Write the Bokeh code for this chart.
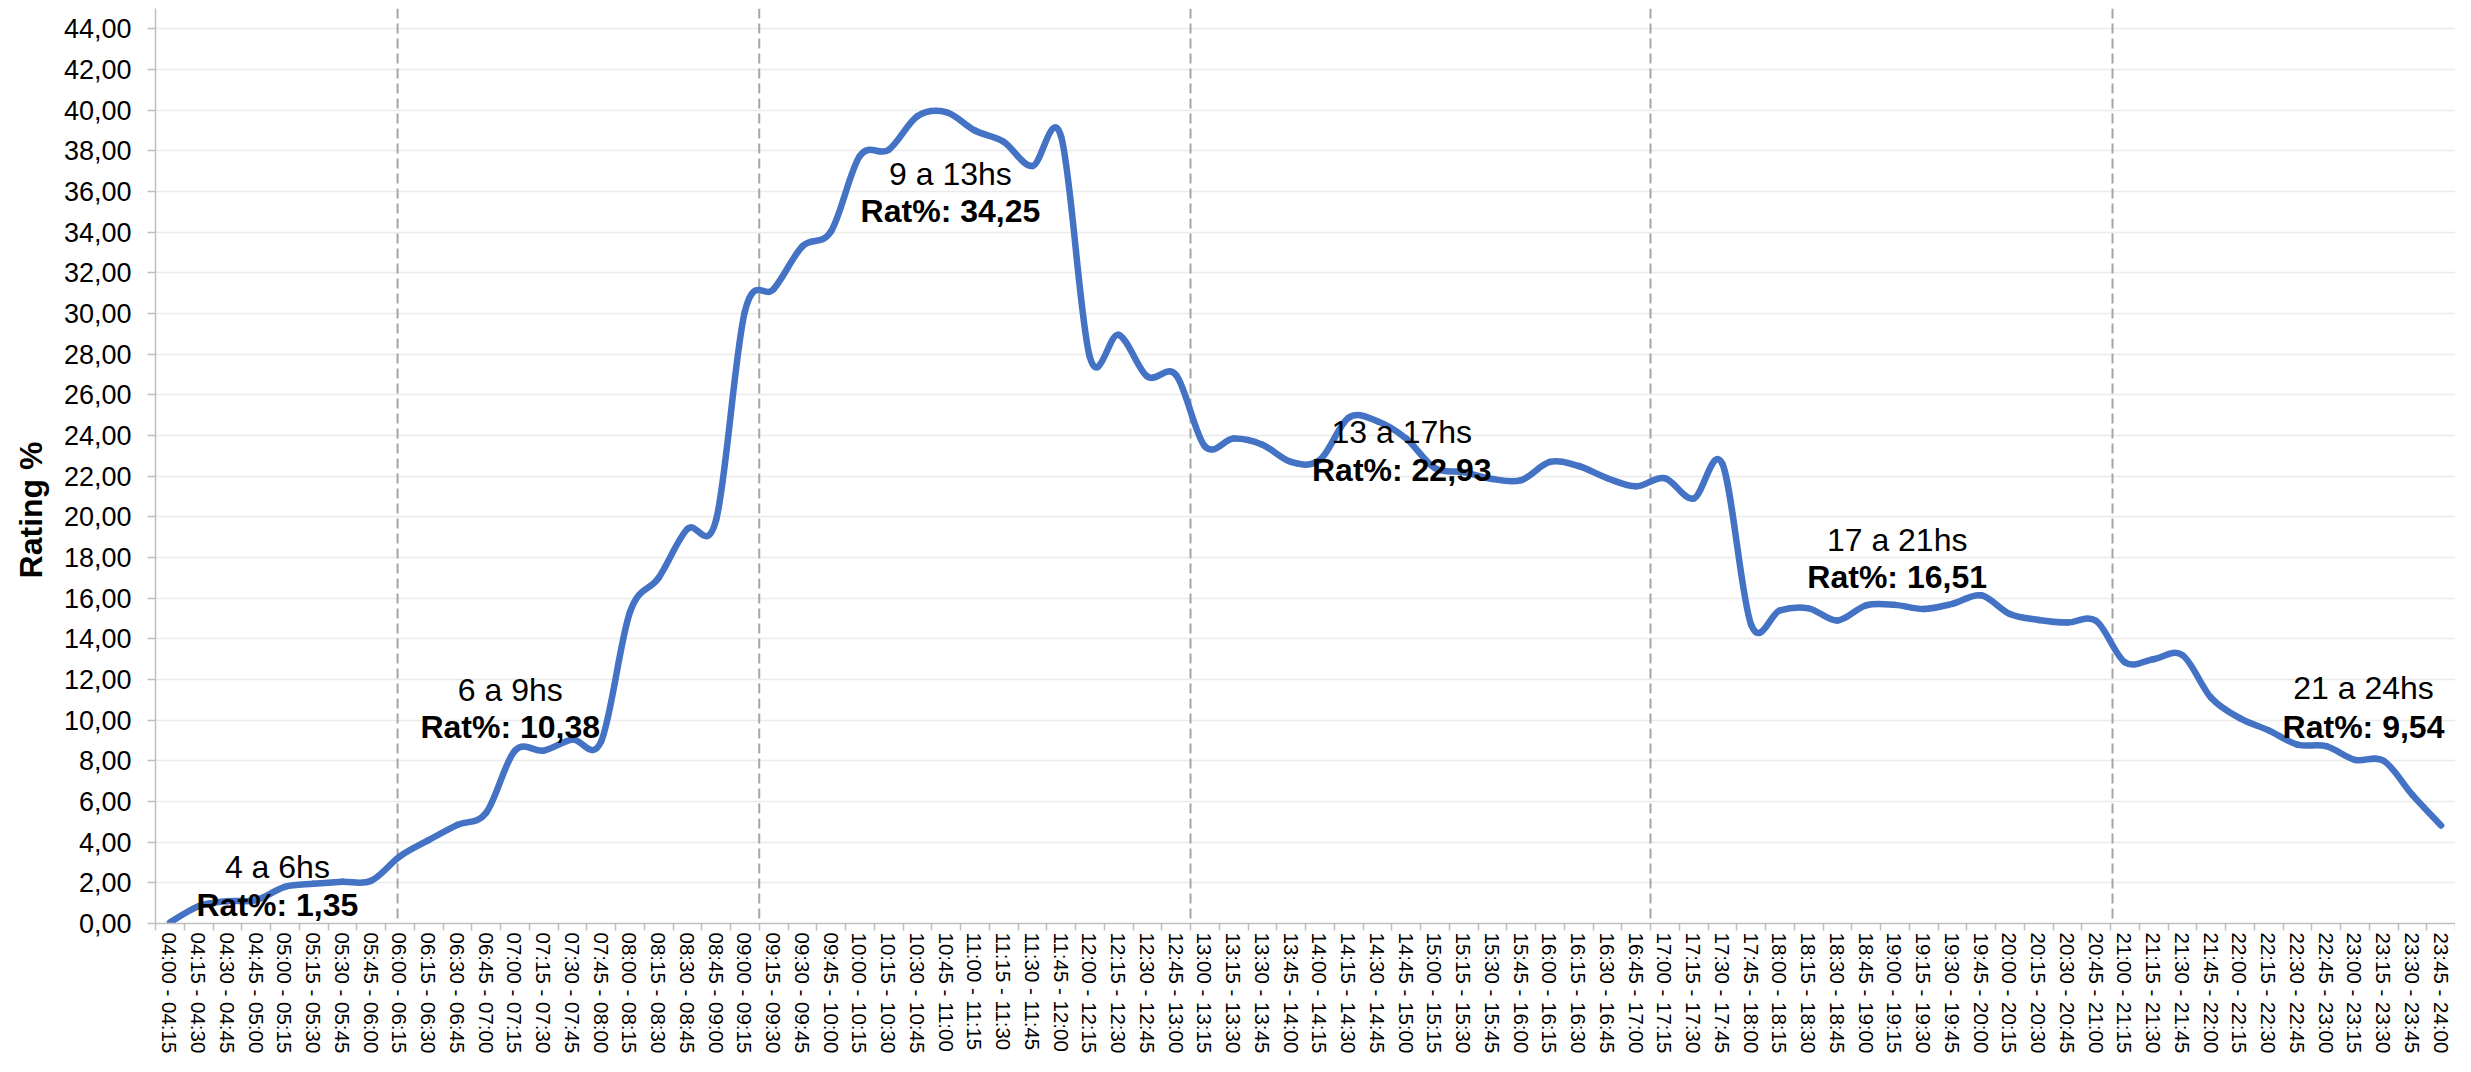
import math
from bokeh.plotting import figure
from bokeh.models import (Range1d, FixedTicker, CustomJSTickFormatter, Span, Title,
                          ColumnDataSource)
from bokeh.embed import file_html
from bokeh.resources import INLINE
from bokeh.core.properties import value

# ---------------- data ----------------
intervals = [
    "04:00 - 04:15", "04:15 - 04:30", "04:30 - 04:45", "04:45 - 05:00",
    "05:00 - 05:15", "05:15 - 05:30", "05:30 - 05:45", "05:45 - 06:00",
    "06:00 - 06:15", "06:15 - 06:30", "06:30 - 06:45", "06:45 - 07:00",
    "07:00 - 07:15", "07:15 - 07:30", "07:30 - 07:45", "07:45 - 08:00",
    "08:00 - 08:15", "08:15 - 08:30", "08:30 - 08:45", "08:45 - 09:00",
    "09:00 - 09:15", "09:15 - 09:30", "09:30 - 09:45", "09:45 - 10:00",
    "10:00 - 10:15", "10:15 - 10:30", "10:30 - 10:45", "10:45 - 11:00",
    "11:00 - 11:15", "11:15 - 11:30", "11:30 - 11:45", "11:45 - 12:00",
    "12:00 - 12:15", "12:15 - 12:30", "12:30 - 12:45", "12:45 - 13:00",
    "13:00 - 13:15", "13:15 - 13:30", "13:30 - 13:45", "13:45 - 14:00",
    "14:00 - 14:15", "14:15 - 14:30", "14:30 - 14:45", "14:45 - 15:00",
    "15:00 - 15:15", "15:15 - 15:30", "15:30 - 15:45", "15:45 - 16:00",
    "16:00 - 16:15", "16:15 - 16:30", "16:30 - 16:45", "16:45 - 17:00",
    "17:00 - 17:15", "17:15 - 17:30", "17:30 - 17:45", "17:45 - 18:00",
    "18:00 - 18:15", "18:15 - 18:30", "18:30 - 18:45", "18:45 - 19:00",
    "19:00 - 19:15", "19:15 - 19:30", "19:30 - 19:45", "19:45 - 20:00",
    "20:00 - 20:15", "20:15 - 20:30", "20:30 - 20:45", "20:45 - 21:00",
    "21:00 - 21:15", "21:15 - 21:30", "21:30 - 21:45", "21:45 - 22:00",
    "22:00 - 22:15", "22:15 - 22:30", "22:30 - 22:45", "22:45 - 23:00",
    "23:00 - 23:15", "23:15 - 23:30", "23:30 - 23:45", "23:45 - 24:00",
]

rating = [
    0.05, 0.85, 1.10, 1.15, 1.80, 1.95, 2.05, 2.10,
    3.30, 4.10, 4.85, 5.45, 8.50, 8.50, 9.05, 8.95,
    15.30, 17.00, 19.40, 19.85, 30.10, 31.20, 33.30, 34.05,
    37.75, 38.05, 39.70, 39.90, 39.00, 38.45, 37.25, 38.70,
    27.85, 28.95, 26.90, 26.97, 23.47, 23.85, 23.55, 22.70,
    22.80, 24.87, 24.70, 23.85, 22.40, 22.20, 21.86, 21.80,
    22.70, 22.50, 21.90, 21.50, 21.90, 20.90, 22.60, 14.70,
    15.40, 15.50, 14.90, 15.65, 15.67, 15.47, 15.72, 16.14,
    15.22, 14.93, 14.80, 14.88, 12.85, 13.00, 13.20, 11.10,
    10.10, 9.50, 8.80, 8.72, 8.05, 8.00, 6.33, 4.82,
]

block_names = ["4 a 6hs", "6 a 9hs", "9 a 13hs", "13 a 17hs", "17 a 21hs", "21 a 24hs"]
block_rating = [1.35, 10.38, 34.25, 22.93, 16.51, 9.54]

y_ticks = list(range(0, 45, 2))

# ---------------- annotation placement (slot units / rating units) ----------------
ann_x = [4.24, 12.34, 27.65, 43.35, 60.58, 76.8]
ann_y_name = [2.78, 11.47, 36.85, 24.16, 18.84, 11.57]
ann_y_val = [0.93, 9.66, 35.04, 22.30, 17.03, 9.66]
dividers = [8.42, 21.0, 36.0, 52.0, 68.07]

FONT = "Liberation Sans"

n = len(rating)
xs = [i + 0.5 for i in range(n)]

p = figure(width=2455, height=1056, x_range=Range1d(0, n), y_range=Range1d(0, 45),
           output_backend="svg", toolbar_location=None,
           min_border_left=152, min_border_right=0, min_border_top=8, min_border_bottom=0)
p.outline_line_color = None
p.background_fill_color = "white"

# grid
ytk = FixedTicker(ticks=y_ticks, minor_ticks=[])
p.xgrid.visible = False
p.ygrid.ticker = ytk
p.ygrid.grid_line_color = "#EBEBEB"
p.ygrid.grid_line_width = 1.5

# x axis
xa = p.xaxis[0]
xa.ticker = FixedTicker(ticks=xs, minor_ticks=list(range(0, n + 1)))
xa.formatter = CustomJSTickFormatter(args=dict(labels=intervals),
                                     code="return labels[Math.floor(tick)] || '';")
xa.major_label_orientation = "vertical"
xa.major_label_text_font = FONT
xa.major_label_text_font_size = "20.5px"
xa.major_label_text_color = "#000000"
xa.major_label_standoff = 2
xa.major_tick_out = 0
xa.major_tick_in = 0
xa.major_tick_line_color = None
xa.minor_tick_out = 7
xa.minor_tick_in = 0
xa.minor_tick_line_color = "#BFBFBF"
xa.minor_tick_line_width = 1.5
xa.axis_line_color = "#BFBFBF"
xa.axis_line_width = 1.5

# y axis
ya = p.yaxis[0]
ya.ticker = ytk
ya.formatter = CustomJSTickFormatter(code="return tick.toFixed(2).replace('.', ',');")
ya.major_label_text_font = FONT
ya.major_label_text_font_size = "27px"
ya.major_label_text_color = "#000000"
ya.major_label_standoff = 16
ya.major_tick_out = 8
ya.major_tick_in = 0
ya.major_tick_line_color = "#BFBFBF"
ya.major_tick_line_width = 1.5
ya.minor_tick_line_color = None
ya.axis_line_color = "#BFBFBF"
ya.axis_line_width = 1.5

# y axis title
p.add_layout(Title(text="Rating %", align="right", offset=433, vertical_align="middle",
                   text_font=FONT, text_font_size="32px", text_font_style="bold",
                   text_color="#000000", standoff=22), "left")

# dividers
for d in dividers:
    p.add_layout(Span(location=d, dimension="height", line_color="#A6A6A6",
                      line_dash="10 5", line_width=2, level="underlay"))

# smoothed line (Bezier segments through each data point)
def clamp(i):
    return max(0, min(n - 1, i))

x0, y0, x1, y1, cx0, cy0, cx1, cy1 = [], [], [], [], [], [], [], []
for i in range(n - 1):
    a, b = i, i + 1
    pa, pb = clamp(i - 1), clamp(i + 2)
    x0.append(xs[a]); y0.append(rating[a])
    x1.append(xs[b]); y1.append(rating[b])
    cx0.append(xs[a] + (xs[b] - xs[pa]) / 6.0)
    cy0.append(rating[a] + (rating[b] - rating[pa]) / 6.0)
    cx1.append(xs[b] - (xs[pb] - xs[a]) / 6.0)
    cy1.append(rating[b] - (rating[pb] - rating[a]) / 6.0)

bz = ColumnDataSource(dict(x0=x0, y0=y0, x1=x1, y1=y1, cx0=cx0, cy0=cy0, cx1=cx1, cy1=cy1))
p.bezier(x0="x0", y0="y0", x1="x1", y1="y1", cx0="cx0", cy0="cy0", cx1="cx1", cy1="cy1",
         source=bz, line_color="#4472C4", line_width=6.5, line_cap="round")

# block annotations
src_names = ColumnDataSource(dict(x=ann_x, y=ann_y_name, t=block_names))
src_vals = ColumnDataSource(dict(x=ann_x, y=ann_y_val,
                                 t=["Rat%: " + ("%.2f" % v).replace(".", ",") for v in block_rating]))
p.text(x="x", y="y", text="t", source=src_names, text_align="center", text_baseline="middle",
       text_font=value(FONT), text_font_size="32px", text_color="#000000")
p.text(x="x", y="y", text="t", source=src_vals, text_align="center", text_baseline="middle",
       text_font=value(FONT), text_font_size="32px", text_font_style="bold", text_color="#000000")

open("out.html", "w").write(file_html(p, INLINE))
